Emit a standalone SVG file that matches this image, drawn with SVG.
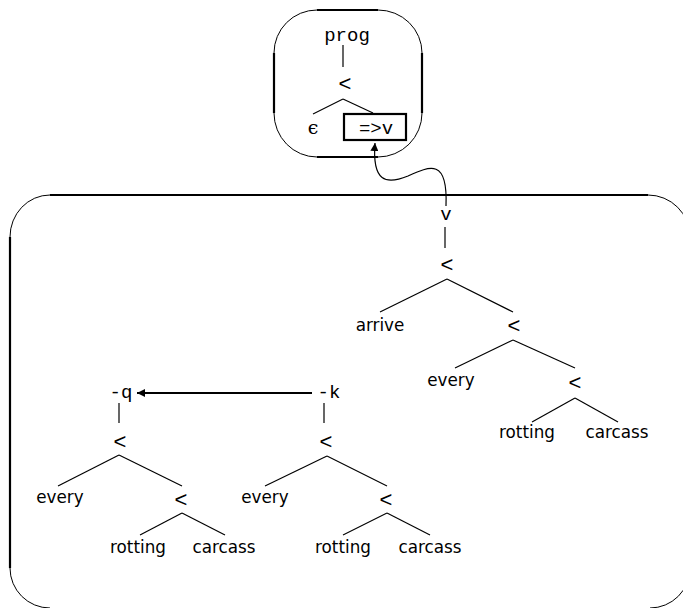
<svg xmlns="http://www.w3.org/2000/svg" width="683" height="608" viewBox="0 0 683 608">
<style>
.edge{stroke:#000;stroke-width:1.2;fill:none}
.thick{stroke:#000;stroke-width:2.2;fill:none}
.thin{stroke:#000;stroke-width:1;fill:none}
.sans{font-family:"DejaVu Sans","Liberation Sans",sans-serif;font-size:16.8px;text-anchor:middle;fill:#000}
.lt{font-family:"Liberation Sans",sans-serif;font-size:22px;text-anchor:middle;fill:#000}
.mono{font-family:"Liberation Mono","DejaVu Sans Mono",monospace;font-size:19px;text-anchor:middle;fill:#000}
.eps{font-family:"DejaVu Serif",serif;font-size:19px;text-anchor:middle;fill:#000}
</style>
<defs>
<marker id="ah" viewBox="0 0 10 10" refX="10" refY="5" markerWidth="8" markerHeight="8" markerUnits="userSpaceOnUse" orient="auto">
<path d="M0,0 L10,5 L0,10 z" fill="#000"/>
</marker>
</defs>
<g id="topbox">
<path class="thick" d="M317,10 H378 M422,53 V113 M378,157 H317 M274,113 V53"/>
<path class="thin" d="M378,10 A44,43 0 0 1 422,53 M422,113 A44,44 0 0 1 378,157 M317,157 A43,44 0 0 1 274,113 M274,53 A43,43 0 0 1 317,10"/>
</g>
<g id="bigbox">
<path class="thick" d="M50,195 H648 M10,237 V568"/>
<path class="thin" d="M648,195 A42,42 0 0 1 690,237 M10,568 A40,40 0 0 0 50,608 M10,237 A40,42 0 0 1 50,195 M690,568 A40,40 0 0 1 650,608"/>
</g>
<g id="node-prog">
<text class="mono" x="347" y="41">prog</text>
<line class="edge" x1="343" y1="45" x2="343" y2="67"/>
<text class="lt" x="345" y="91">&lt;</text>
<line class="edge" x1="343" y1="99" x2="313" y2="114"/>
<line class="edge" x1="343" y1="99" x2="373" y2="113"/>
<text class="eps" x="313" y="134">ϵ</text>
</g>
<g id="node-v-box">
<rect class="thick" x="344" y="114" width="62" height="26"/>
<text class="mono" x="376" y="134">=&gt;v</text>
</g>
<g id="tree-v">
<text class="mono" x="446" y="220">v</text>
<line class="edge" x1="445" y1="227" x2="445" y2="248"/>
<text class="lt" x="447" y="272">&lt;</text>
<line class="edge" x1="447" y1="279" x2="380" y2="312"/>
<line class="edge" x1="447" y1="279" x2="513" y2="312"/>
<text class="sans" x="380" y="331">arrive</text>
<text class="lt" x="514" y="333">&lt;</text>
<line class="edge" x1="513" y1="340" x2="455" y2="368"/>
<line class="edge" x1="513" y1="340" x2="575" y2="368"/>
<text class="sans" x="451" y="386">every</text>
<text class="lt" x="575" y="390">&lt;</text>
<line class="edge" x1="575" y1="398" x2="532" y2="422"/>
<line class="edge" x1="575" y1="398" x2="618" y2="422"/>
<text class="sans" x="527" y="438">rotting</text>
<text class="sans" x="617" y="438">carcass</text>
</g>
<g id="tree-q">
<text class="mono" x="121" y="398">-q</text>
<line class="edge" x1="119" y1="403" x2="119" y2="423"/>
<text class="lt" x="120" y="449">&lt;</text>
<line class="edge" x1="119" y1="455" x2="58" y2="486"/>
<line class="edge" x1="119" y1="455" x2="182" y2="486"/>
<text class="sans" x="60" y="503">every</text>
<text class="lt" x="181" y="507">&lt;</text>
<line class="edge" x1="182" y1="513" x2="140" y2="535"/>
<line class="edge" x1="182" y1="513" x2="225" y2="535"/>
<text class="sans" x="138" y="553">rotting</text>
<text class="sans" x="224" y="553">carcass</text>
</g>
<g id="tree-k">
<text class="mono" x="329" y="398">-k</text>
<line class="edge" x1="324" y1="403" x2="324" y2="423"/>
<text class="lt" x="326" y="449">&lt;</text>
<line class="edge" x1="327" y1="456" x2="265" y2="486"/>
<line class="edge" x1="327" y1="456" x2="387" y2="486"/>
<text class="sans" x="265" y="503">every</text>
<text class="lt" x="386" y="507">&lt;</text>
<line class="edge" x1="387" y1="513" x2="343" y2="535"/>
<line class="edge" x1="387" y1="513" x2="430" y2="535"/>
<text class="sans" x="343" y="553">rotting</text>
<text class="sans" x="430" y="553">carcass</text>
</g>
<g id="connectors">
<path class="edge" d="M446,206 C448,158 430,166 408,176 C386,185 372,182 375,143" marker-end="url(#ah)"/>
<line class="thick" x1="312" y1="393" x2="137" y2="393" marker-end="url(#ah)"/>
</g>
</svg>
